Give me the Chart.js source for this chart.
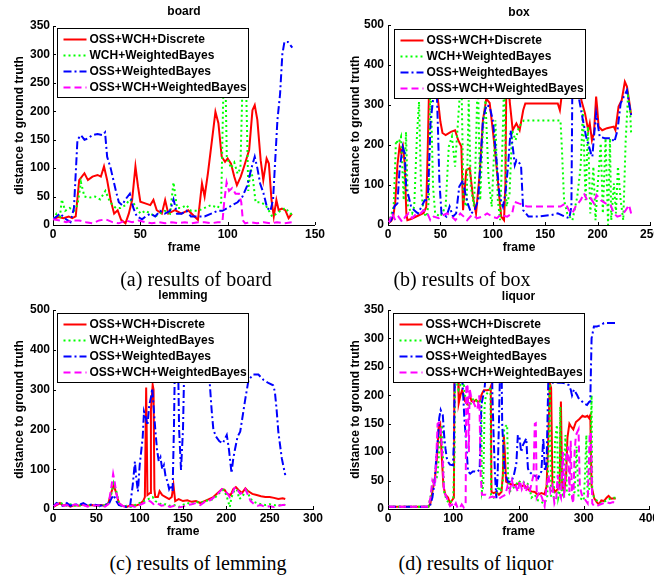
<!DOCTYPE html>
<html><head><meta charset="utf-8">
<script src="https://cdn.jsdelivr.net/npm/chart.js@4.4.1/dist/chart.umd.min.js"></script>
<style>
html,body{margin:0;padding:0;background:#fff;overflow:hidden;width:654px;height:575px;}
#wrap{position:relative;width:654px;height:575px;overflow:hidden;background:#fff;}
canvas{position:absolute;}
.cap{position:absolute;font-family:"Liberation Serif","Times New Roman",serif;font-size:20px;color:#000;white-space:nowrap;transform:translateX(-50%);line-height:20px;}
</style></head><body>
<div id="wrap">
<canvas id="cA" width="327" height="262" style="left:0;top:0;width:327px;height:262px"></canvas>
<canvas id="cB" width="340" height="262" style="left:327px;top:0;width:340px;height:262px"></canvas>
<canvas id="cC" width="327" height="262" style="left:0;top:285px;width:327px;height:262px"></canvas>
<canvas id="cD" width="340" height="262" style="left:327px;top:285px;width:340px;height:262px"></canvas>
<div class="cap" style="left:196px;top:269px">(a) results of board</div>
<div class="cap" style="left:462px;top:269px">(b) results of box</div>
<div class="cap" style="left:198px;top:553px">(c) results of lemming</div>
<div class="cap" style="left:476px;top:553px">(d) results of liquor</div>
</div>
<script>
// ---------- DATA (frame, distance) ----------
const seriesNames = ["OSS+WCH+Discrete", "WCH+WeightedBayes", "OSS+WeightedBayes", "OSS+WCH+WeightedBayes"];
const chartTitles = ["board", "box", "lemming", "liquor"];
const xLabel = "frame";
const yLabel = "distance to ground truth";

// board
const boardDiscrete = [[0,10],[3,14],[6,12],[9,15],[11,12],[13,15],[15,79],[18,91],[20,79],[22.6,85],[25.5,88],[27.4,85],[29.2,103],[31,79],[33,44],[35,20],[37,26],[39,9],[41.5,3],[43.4,20],[45.3,44],[47.2,103],[48.7,67],[50,41],[52.8,38],[55.7,35],[57.5,44],[59.4,26],[62.3,20],[64.2,44],[66,20],[69.8,26],[73.6,20],[77.4,26],[81,15],[83,9],[85.3,73],[86.8,50],[88.7,91],[91.5,161],[93,199],[94.7,179],[96.6,120],[98.5,111],[100,117],[101.9,108],[103.8,85],[105.3,70],[107.5,85],[109.4,103],[112.3,132],[114.2,202],[115.5,211],[117,185],[118.9,114],[120.4,79],[122.3,117],[123.6,108],[125.1,44],[126.4,15],[127.9,44],[129.2,26],[131.1,29],[133,26],[134.9,12],[136.8,20]];
const boardWCH = [[0,10],[2,20],[4,15],[5,45],[7,25],[9.5,30],[12,25],[14,35],[16,75],[18,50],[20.6,48],[24,50],[27,45],[30,60],[32,45],[34,35],[36,30],[38.7,30],[41.5,35],[44,45],[47,35],[50,20],[53,25],[55.7,20],[58.5,15],[61,20],[64,25],[67,20],[69,75],[71,30],[73.6,30],[76.4,35],[79,25],[83,25],[86.8,30],[90.6,35],[94.3,30],[96.3,40],[97.5,230],[98.5,300],[99.5,120],[101.9,100],[103.8,110],[105.7,90],[107.3,100],[108.8,285],[110.3,287],[111.8,60],[113.2,100],[114.5,80],[116,40],[119,40],[121.7,35],[123.6,25],[125.5,15],[128,20],[130.2,25],[133,30],[135.8,20],[137,20]];
const boardOSS = [[0,10],[2,15],[4,20],[7.5,10],[10,5],[12,30],[14,150],[16,158],[18,150],[19.8,152],[22.6,158],[25.5,160],[28.3,158],[29.8,163],[31,120],[33,100],[36,60],[37.7,40],[39.6,35],[41.5,45],[44,55],[46,30],[48,15],[51,10],[53,15],[55.7,20],[58.5,15],[61.3,25],[64,20],[67,25],[69,45],[71,20],[73.6,20],[76.4,25],[79,15],[83,15],[86.8,15],[90.6,20],[94.3,25],[97,25],[100,30],[102.8,35],[105.7,40],[108.5,50],[111.3,70],[113.6,100],[115.5,120],[117,100],[118.6,73],[120.5,56],[122.6,30],[124.5,25],[126,45],[128.5,185],[130,230],[131.3,300],[132.5,322],[134.5,322],[136,316],[137,312]];
const boardFull = [[0,10],[3.8,8],[7.5,5],[11.3,8],[15,8],[18.9,5],[22.6,3],[26.4,8],[30.2,10],[34,5],[37.7,3],[41.5,8],[45.3,5],[49,8],[52.8,5],[56.6,3],[60.4,5],[64.2,3],[68,5],[71.7,3],[75.5,5],[79,3],[83,5],[86.8,5],[90.6,3],[94.3,5],[97,5],[98,40],[99.4,75],[100.8,60],[102.6,65],[104.5,55],[106.5,55],[107.8,40],[108.7,8],[110,3],[113,5],[116.8,3],[120.6,5],[124.5,3],[128.3,5],[132,3],[137,5]];

// box
const boxDiscrete = [[0,4],[3,10],[5,20],[7,60],[9,150],[11,196],[12.7,179],[14.3,196],[15.9,154],[17.5,29],[18.5,12],[22,15],[26,20],[30,25],[34,30],[36.5,45],[38,200],[39.5,380],[45,380],[47.7,312],[50,258],[52,230],[55,225],[60,233],[64,237],[67,212],[70,196],[71.6,37],[74.7,137],[78,142],[81,71],[84,29],[87.5,129],[90.6,262],[93.8,316],[97,305],[100,237],[103,162],[106.5,62],[108,21],[110.7,12],[112,100],[113,380],[114.5,380],[116,312],[119,237],[122.5,254],[125.6,237],[129,287],[131,304],[134,304],[143,304],[162,304],[164,287],[165.6,321],[167,380],[183,380],[184.5,312],[188,279],[191,237],[192.5,254],[194.6,212],[196.5,229],[198.6,321],[199.5,296],[201,246],[204.4,237],[209,242],[215.4,246],[217,237],[220,296],[223,312],[226,358],[228,346],[230,312],[232,275]];
const boxWCH = [[0.6,4],[5.4,46],[7.6,212],[10,204],[12.4,221],[15,62],[17.2,233],[19,46],[23,29],[25,46],[27.7,229],[29.6,308],[31.5,96],[34,29],[37,21],[39,62],[40.4,380],[43,96],[45,29],[50,21],[55,46],[58,196],[61,221],[64,146],[67.5,287],[70,380],[72,62],[75,46],[77,312],[79,96],[82,46],[83.4,146],[85.7,380],[88,62],[90.4,229],[93,312],[96,112],[99,46],[102.5,262],[104.8,62],[107,12],[109.5,229],[111,380],[113,46],[116,79],[118.5,237],[121.7,212],[125,246],[129.6,261],[164.6,261],[166,187],[168,62],[171,29],[176,12],[180.6,71],[183.8,146],[186,287],[188.5,62],[190.8,246],[193,29],[196,146],[198,12],[200,96],[203,204],[205,29],[207.6,217],[210,0],[211.8,217],[213,12],[215.6,104],[217.5,29],[219.4,146],[222,62],[224.5,12],[226.8,212],[229,321],[231,287],[232,229]];
const boxOSS = [[0,4],[3,12],[6,46],[9,54],[11,137],[14,196],[16,179],[17.5,88],[19,79],[22,46],[25,37],[28.6,29],[32,46],[35,62],[38,62],[40.7,262],[43,312],[44,380],[46,380],[47.7,237],[49,112],[51,29],[55.7,21],[58.8,46],[62,21],[65,29],[68,96],[71.6,112],[73.8,79],[76,54],[79.5,29],[82.7,37],[86,62],[88.4,162],[90.6,262],[93.8,300],[97,296],[100,262],[103,179],[106.5,71],[109.7,46],[112,79],[114.5,146],[117,237],[119,196],[121,150],[122.5,162],[125.6,154],[127,146],[129,37],[134,21],[143,21],[156,25],[162,29],[169,21],[173,17],[175,46],[176,380],[182,380],[182.5,312],[186,262],[189,221],[191.8,196],[193.7,179],[195,171],[196.5,220],[198.6,279],[202,221],[206.7,217],[213,217],[216,208],[219,237],[222,304],[225,321],[228,337],[230,304],[232,275]];
const boxFull = [[0.6,4],[3.8,29],[7,12],[10,21],[13.4,8],[16.6,21],[19.7,29],[23,17],[26,25],[31,29],[34,37],[37,33],[40.4,12],[43.6,21],[48.4,17],[53,25],[56.4,29],[61,21],[64.3,12],[69,29],[72.3,21],[75.5,12],[80,25],[85,17],[89.8,21],[94.6,29],[99.4,21],[104,17],[107,25],[113.7,21],[118.5,29],[120.7,58],[124.8,54],[129.6,50],[132.8,46],[164.6,46],[169.4,54],[172.6,37],[175.8,29],[179,46],[183.8,62],[187,79],[190,62],[193.3,67],[196.5,54],[199,75],[203,62],[207.6,54],[212.4,50],[215.6,29],[218.8,21],[223.6,25],[226.8,37],[230,50],[232,29]];

// lemming
const lemmingDiscrete = [[0,5],[4,10],[8,15],[12,8],[16,12],[20,6],[25,10],[30,8],[35,12],[40,8],[45,10],[50,8],[55,10],[60,8],[64,15],[67,40],[70,60],[73,40],[76,15],[80,8],[85,5],[90,10],[95,8],[100,12],[104,20],[106,30],[107.5,305],[109,35],[112,40],[113,250],[115,312],[116,300],[117,50],[118,30],[121,30],[123,45],[126,35],[130,30],[134,25],[137,30],[139,60],[141,20],[145,25],[150,20],[155,22],[160,18],[165,20],[170,15],[175,20],[180,25],[185,30],[190,40],[195,50],[198,48],[201,38],[205,35],[208,50],[211,55],[214,48],[218,40],[222,52],[225,45],[230,38],[235,35],[240,32],[245,30],[250,30],[255,28],[260,25],[265,27],[268,25]];
const lemmingWCH = [[0,5],[4,12],[8,18],[12,10],[16,8],[20,12],[25,8],[30,10],[35,8],[40,12],[45,8],[50,10],[55,6],[60,10],[64,15],[67,35],[70,65],[73,45],[76,15],[80,5],[85,8],[90,5],[95,10],[100,15],[105,20],[110,25],[115,30],[118,20],[122,15],[126,10],[130,12],[135,8],[140,10],[145,5],[150,10],[155,15],[160,12],[165,18],[170,15],[175,20],[180,22],[185,25],[190,35],[194,45],[197,48],[200,35],[202,20],[204,5],[206,30],[209,45],[212,50],[215,25],[218,30],[221,40],[224,45],[227,30],[230,20],[235,15],[240,12],[245,10],[250,12],[255,10],[260,8],[264,12],[268,10]];
const lemmingOSS = [[0,5],[4,15],[8,10],[12,8],[16,15],[20,8],[25,12],[30,10],[35,15],[40,8],[45,12],[50,10],[55,8],[60,12],[64,10],[67,25],[70,35],[73,20],[76,10],[80,8],[85,5],[89,8],[92,60],[94.5,119],[96,80],[98,44],[100,110],[102,150],[103.5,180],[105,245],[107,230],[109,210],[111,260],[113,280],[114.5,303],[116,260],[118,200],[120,150],[122,120],[124,130],[126,100],[128,110],[130,80],[132,70],[134,50],[136,60],[138,45],[139.6,211],[141,420],[144,420],[145.5,200],[147.7,98],[150,200],[152,420],[180,420],[181,312],[183,250],[185,200],[188,182],[192,170],[196,165],[198,175],[200.5,186],[203,150],[206,90],[208,127],[210,150],[213,182],[216,194],[222,278],[225.6,324],[231,338],[237,338],[243,324],[249,316],[254,311],[256,295],[258,250],[260,194],[264,127],[268,85]];
const lemmingFull = [[0,5],[4,12],[8,15],[12,8],[16,10],[20,6],[25,12],[30,8],[35,10],[40,6],[45,10],[50,8],[55,10],[60,6],[64,12],[67,50],[69.4,88],[71,70],[73,40],[76,15],[80,8],[85,5],[90,8],[95,5],[100,10],[105,15],[110,22],[113,18],[116,12],[120,15],[125,8],[130,10],[135,5],[140,8],[145,4],[150,6],[155,10],[160,12],[165,15],[170,10],[175,18],[180,20],[185,28],[190,38],[195,50],[198,45],[201,40],[204,30],[207,40],[210,55],[213,48],[216,38],[219,42],[222,50],[225,35],[228,20],[232,12],[236,8],[240,10],[245,5],[250,7],[255,5],[260,8],[265,10],[268,10]];

// liquor
const liquorDiscrete = [[0,4],[20,4],[40,4],[62,4],[65,10],[68,30],[72,55],[75,90],[77.7,145],[80,150],[82,100],[85,40],[88,25],[92,20],[95,10],[98,15],[101,20],[102,300],[106,300],[107.5,230],[108.4,186],[111,200],[113.5,209],[116,200],[118,190],[121,185],[123,195],[126,198],[128,190],[131,188],[135,192],[138,188],[141,190],[143,200],[145,205],[147,209],[152,209],[156,210],[157.5,215],[158.6,30],[162,28],[166,30],[170,25],[174,30],[176,60],[177.5,130],[179,100],[181,48],[185,45],[190,43],[195,42],[200,45],[205,40],[209,42],[214,35],[219.5,31],[225,30],[229.7,25],[235,28],[240,26],[243,40],[245,100],[248,221],[250,213],[252,40],[256,30],[260,35],[263,40],[265,189],[267,40],[270,30],[273,60],[275,125],[278,150],[280,146],[284,140],[288,153],[293,158],[298,164],[302,162],[305.5,164],[308,160],[310,165],[312,40],[316,19],[320,12],[323,8],[327,15],[331,14],[335,20],[338,23],[342,18],[346,19],[349,18]];
const liquorWCH = [[0,4],[62,4],[65,20],[70,54],[73,50],[76,60],[80,130],[83,148],[85,60],[86,30],[90,15],[95,10],[100,20],[102,100],[103,300],[106,220],[108,210],[111,218],[114,215],[116,222],[118,200],[121,190],[125,180],[128,190],[132,195],[136,190],[140,192],[143,185],[144,30],[146,40],[148,180],[150,200],[153,205],[156,210],[157,215],[158,25],[162,20],[166,25],[170,40],[173,30],[176,50],[178,140],[180,145],[182.6,148],[184,60],[186,30],[190,35],[195,40],[200,50],[205,45],[210,48],[216,42],[220,20],[225,25],[230,15],[235,12],[240,10],[244,20],[246,100],[248,225],[250,20],[254,20],[256,120],[259,148],[261,20],[263,30],[264,180],[266,30],[268,25],[270,80],[272,130],[274,30],[278,25],[282,20],[286,30],[289,110],[292,20],[296,18],[300,15],[302,60],[304,130],[306,20],[309,40],[311,150],[312,200],[313,30],[316,20],[320,15],[325,10],[330,12],[335,15],[340,18],[345,20],[349,20]];
const liquorOSS = [[0,4],[64,4],[68,20],[71.5,48],[74,90],[76.6,124],[78.5,160],[80.7,174],[82,170],[84,165],[86,130],[88,107],[90,90],[92,83],[95,78],[99.6,77],[101,120],[103,300],[110,300],[113,240],[115,206],[117,160],[120,113],[122.6,66],[126,62],[130,66],[133,66],[137,65],[140.5,70],[143,183],[146,200],[148,212],[150,240],[153,300],[159,300],[160,200],[162,124],[164,60],[166,19],[168,60],[170,150],[171,206],[172.5,300],[173.7,300],[175,150],[177.8,83],[180,60],[184,48],[189,48],[193,60],[196.7,80],[199,130],[201.8,124],[204,100],[207,113],[212,124],[213,100],[214.5,71],[218,64],[222,60],[226,58],[230,54],[235,66],[238,124],[240.5,66],[243,80],[245.6,222],[250,222],[256,223],[262,222],[266.6,222],[272,221],[277,218],[280,210],[282,200],[285,210],[287,206],[290,200],[292,195],[295,192],[297.5,189],[300,186],[305,183],[308,188],[310,189],[312,300],[315.6,321],[320,321],[323,322],[327,324],[331,327],[338.7,327],[345,327],[349,327]];
const liquorFull = [[0,4],[62,4],[65,20],[68,50],[70,45],[72,40],[74,90],[76,150],[78,152],[80,150],[82,120],[84,80],[86,30],[90,20],[93,10],[95,5],[98,8],[101,3],[104,10],[107,1],[110,2],[113,8],[116,3],[119,10],[120,220],[122,215],[124,100],[125,212],[127,200],[130,190],[134,180],[137,175],[140,200],[142,60],[144,25],[150,25],[155,20],[160,22],[165,20],[170,18],[175,22],[180,25],[183,40],[186,30],[190,50],[193,35],[196,40],[199,30],[202,50],[205,35],[208,45],[211,30],[214,40],[217,30],[220,45],[223,60],[225,150],[226.5,151],[228,20],[232,30],[236,20],[240,5],[243,40],[246,60],[249,30],[252,40],[255,10],[258,20],[260,60],[262,30],[265,20],[268,100],[270,20],[273,90],[276,110],[278,30],[280,120],[282,20],[284,10],[286,100],[288,130],[290,135],[292,140],[294,40],[297,25],[300,20],[303,15],[306,10],[309,130],[311,135],[313,10],[316,5],[320,5],[325,8],[330,10],[335,12],[340,10],[345,12],[349,10]];

// axis ranges / ticks
const boardXTicks = [0, 150, 50], boardYTicks = [0, 350, 50];
const boxXTicks = [0, 250, 50], boxYTicks = [0, 500, 100];
const lemmingXTicks = [0, 300, 50], lemmingYTicks = [0, 500, 100];
const liquorXTicks = [0, 400, 100], liquorYTicks = [0, 350, 50];

// ---------- STYLE ----------
const FONT = '"Liberation Sans", Arial, Helvetica, sans-serif';
const styles = [
  {color: '#ff0000', dash: []},
  {color: '#00ff00', dash: [2, 3]},
  {color: '#0000ff', dash: [8, 3, 2, 3]},
  {color: '#ff00ff', dash: [7, 4]}
];

const inwardTicks = {
  id: 'inwardTicks',
  afterDatasetsDraw(chart) {
    const {ctx, chartArea: a, scales: {x, y}} = chart;
    ctx.save();
    ctx.strokeStyle = '#000'; ctx.lineWidth = 1; ctx.setLineDash([]);
    ctx.beginPath();
    x.ticks.forEach(t => { const px = Math.round(x.getPixelForValue(t.value)) + 0.5; ctx.moveTo(px, a.bottom); ctx.lineTo(px, a.bottom - 3); });
    y.ticks.forEach(t => { const py = Math.round(y.getPixelForValue(t.value)) + 0.5; ctx.moveTo(a.left, py); ctx.lineTo(a.left + 3, py); });
    ctx.stroke();
    ctx.restore();
  }
};

const insideLegend = {
  id: 'insideLegend',
  afterDatasetsDraw(chart, args, opts) {
    const {ctx, chartArea} = chart;
    const x0 = Math.round(chartArea.left + opts.dx) + 0.5, y0 = Math.round(chartArea.top + opts.dy) + 0.5;
    const w = 191, h = 69;
    ctx.save();
    ctx.fillStyle = '#fff'; ctx.fillRect(x0, y0, w, h);
    ctx.setLineDash([]); ctx.strokeStyle = '#000'; ctx.lineWidth = 1; ctx.strokeRect(x0, y0, w, h);
    chart.data.datasets.forEach((ds, i) => {
      const yy = y0 + 11 + i * 16;
      ctx.beginPath();
      ctx.setLineDash(ds.borderDash || []);
      ctx.strokeStyle = ds.borderColor; ctx.lineWidth = 2;
      ctx.moveTo(x0 + 6, yy); ctx.lineTo(x0 + 29, yy); ctx.stroke();
      ctx.setLineDash([]);
      ctx.fillStyle = '#000'; ctx.font = 'bold 12px ' + FONT; ctx.textBaseline = 'middle'; ctx.textAlign = 'left';
      ctx.fillText(ds.label, x0 + 32, yy);
    });
    ctx.restore();
  }
};

function makeChart(id, title, seriesList, xt, yt, L) {
  const datasets = seriesList.map((arr, i) => ({
    label: seriesNames[i],
    data: arr.map(p => ({x: p[0], y: p[1]})),
    borderColor: styles[i].color,
    borderDash: styles[i].dash,
    borderWidth: 2,
    pointRadius: 0,
    fill: false,
    tension: 0,
    order: 4 - i
  }));
  const tickFont = {family: FONT, size: 12, weight: 'bold'};
  return new Chart(document.getElementById(id), {
    type: 'line',
    data: {datasets},
    plugins: [inwardTicks, insideLegend],
    options: {
      responsive: false, animation: false, devicePixelRatio: 1,
      layout: {autoPadding: false, padding: {left: 0, top: 0, right: L.padRight, bottom: 0}},
      plugins: {
        legend: {display: false}, tooltip: {enabled: false},
        title: {display: true, text: title, fullSize: false, color: '#000', font: {family: FONT, size: 12, weight: 'bold'}, padding: {top: L.tTop, bottom: L.tBottom}},
        insideLegend: {dx: L.lx, dy: L.ly}
      },
      scales: {
        x: {
          type: 'linear', position: 'bottom', min: xt[0], max: xt[1],
          afterFit: s => { s.height = L.xH; },
          ticks: {stepSize: xt[2], color: '#000', font: tickFont, padding: 2, maxRotation: 0, autoSkip: false},
          grid: {display: false, drawTicks: false, tickLength: 0},
          border: {display: true, color: '#000', width: 1},
          title: {display: true, text: xLabel, color: '#000', font: tickFont, padding: {top: 0, bottom: L.xtPad}}
        },
        y: {
          type: 'linear', position: 'left', min: yt[0], max: yt[1],
          afterFit: s => { s.width = L.yW; },
          ticks: {stepSize: yt[2], color: '#000', font: tickFont, padding: L.ytickPad},
          grid: {display: false, drawTicks: false, tickLength: 0},
          border: {display: true, color: '#000', width: 1},
          title: {display: true, text: yLabel, color: '#000', font: tickFont, padding: {top: L.ytPad, bottom: 0}}
        }
      }
    }
  });
}

makeChart('cA', chartTitles[0], [boardDiscrete, boardWCH, boardOSS, boardFull], boardXTicks, boardYTicks,
  {padRight: 9, tTop: 4.8, tBottom: 6.8, xH: 37, xtPad: 6.8, yW: 53, ytPad: 12.8, ytickPad: 3, lx: 4, ly: 2});
makeChart('cB', chartTitles[1], [boxDiscrete, boxWCH, boxOSS, boxFull], boxXTicks, boxYTicks,
  {padRight: 17, tTop: 5.1, tBottom: 5.5, xH: 37, xtPad: 6.8, yW: 61, ytPad: 21.1, ytickPad: 4, lx: 6, ly: 4});
makeChart('cC', chartTitles[2], [lemmingDiscrete, lemmingWCH, lemmingOSS, lemmingFull], lemmingXTicks, lemmingYTicks,
  {padRight: 14, tTop: 3.8, tBottom: 6.8, xH: 38, xtPad: 7.8, yW: 53, ytPad: 12.8, ytickPad: 3, lx: 4, ly: 3});
makeChart('cD', chartTitles[3], [liquorDiscrete, liquorWCH, liquorOSS, liquorFull], liquorXTicks, liquorYTicks,
  {padRight: 18, tTop: 4.5, tBottom: 6.1, xH: 38, xtPad: 7.8, yW: 61, ytPad: 21.1, ytickPad: 4, lx: 5, ly: 3});
</script>
</body></html>
